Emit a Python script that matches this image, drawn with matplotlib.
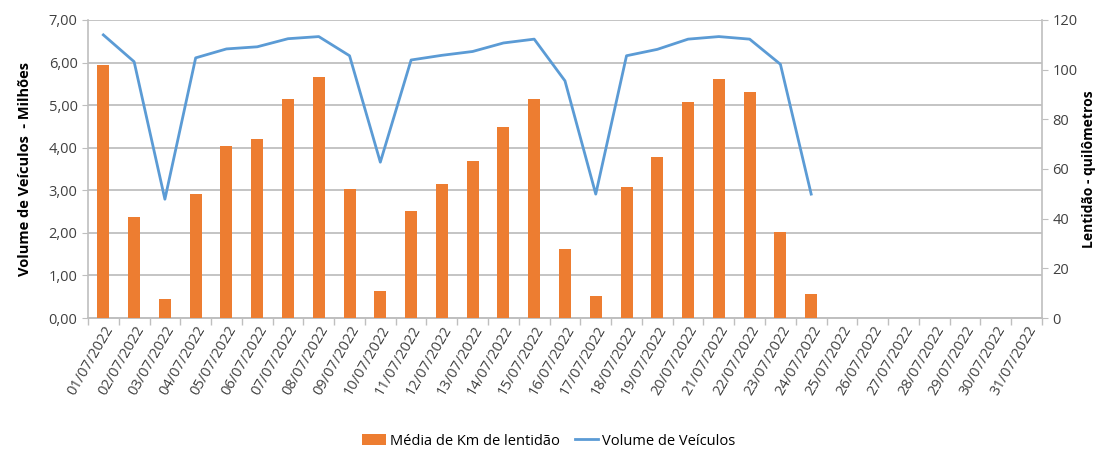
import matplotlib
matplotlib.use("Agg")
import matplotlib.pyplot as plt
from matplotlib.ticker import FuncFormatter, MultipleLocator

plt.rcParams['font.family'] = ['Open Sans', 'DejaVu Sans']

dates = [f"{d:02d}/07/2022" for d in range(1, 32)]

lentidao_km = [102.0, 40.7, 7.7, 49.8, 69.2, 72.1, 88.0, 96.9, 51.9, 10.8,
               42.9, 54.1, 63.1, 76.9, 88.0, 27.9, 9.0, 52.7, 64.9, 87.1,
               96.1, 90.9, 34.8, 9.8]

volume_milhoes = [6.65, 6.02, 2.79, 6.11, 6.32, 6.37, 6.56, 6.61, 6.16, 3.66,
                  6.06, 6.17, 6.26, 6.46, 6.55, 5.57, 2.91, 6.16, 6.31, 6.55,
                  6.61, 6.55, 5.96, 2.91]

orange = '#ED7D31'
blue = '#5B9BD5'
grid_c = '#BFBFBF'
text_c = '#404040'

fig = plt.figure(figsize=(10.98, 4.51), dpi=100)
ax1 = fig.add_axes([0.0801, 0.2949, 0.8689, 0.6608])
ax2 = ax1.twinx()

x_all = list(range(len(dates)))
x_bar = list(range(len(lentidao_km)))
x_line = list(range(len(volume_milhoes)))

bars = ax2.bar(x_bar, lentidao_km, width=0.39, color=orange, zorder=3,
               label='Média de Km de lentidão')
line, = ax1.plot(x_line, volume_milhoes, color=blue, lw=2.0, zorder=4,
                 label='Volume de Veículos')

ax1.set_xlim(-0.5, len(dates) - 0.5)
ax1.set_ylim(0, 7)
ax2.set_ylim(0, 120)
ax1.yaxis.set_major_locator(MultipleLocator(1))
ax2.yaxis.set_major_locator(MultipleLocator(20))
ax1.yaxis.set_major_formatter(FuncFormatter(lambda v, p: f"{v:.2f}".replace('.', ',')))

ax1.grid(axis='y', color=grid_c, lw=1.3, zorder=0)
ax1.set_axisbelow(True)

ax1.set_xticks(x_all)
ax1.set_xticklabels(dates, rotation=60, ha='right', rotation_mode='anchor',
                    fontsize=10.5, color=text_c)
ax1.tick_params(axis='x', length=0, pad=4)
ax1.set_xticks([i - 0.5 for i in range(len(dates) + 1)], minor=True)
ax1.tick_params(axis='x', which='minor', length=5, color=grid_c, width=1)

ax1.tick_params(axis='y', labelsize=10.5, colors=text_c, length=4, color=grid_c)
ax2.tick_params(axis='y', labelsize=10.5, colors=text_c, length=4, color=grid_c)

for a in (ax1, ax2):
    a.spines['top'].set_visible(False)
    for s in ('left', 'right', 'bottom'):
        a.spines[s].set_color(grid_c)
        a.spines[s].set_linewidth(1.2)
ax1.spines['right'].set_visible(False)
ax2.spines['left'].set_visible(False)

ax1.set_ylabel('Volume de Veículos  - Milhões', fontsize=10.5, fontweight='bold',
               color='black', labelpad=12)
ax2.set_ylabel('Lentidão - quilômetros', fontsize=10, fontweight='bold',
               color='black', labelpad=3)

fig.legend(handles=[bars, line], loc='center', bbox_to_anchor=(0.5, 0.022),
           ncol=2, frameon=False, fontsize=10.5, handlelength=1.6,
           columnspacing=1.0, handletextpad=0.3)

fig.savefig('out.png', dpi=100, facecolor='white')
